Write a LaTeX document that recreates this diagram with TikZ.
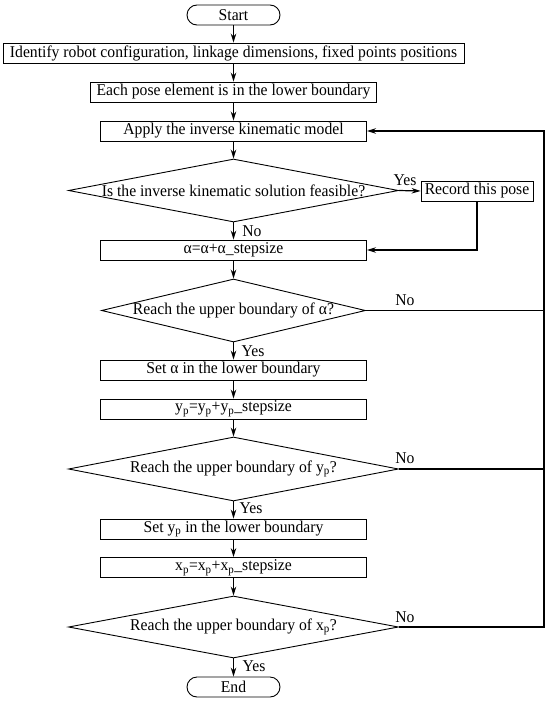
\documentclass[tikz,border=0pt]{standalone}
\usepackage{fontspec}
\setmainfont{Liberation Serif}[FakeStretch=0.95]
\usetikzlibrary{shapes.geometric,arrows.meta}
\begin{document}
\begin{tikzpicture}[x=1pt,y=-1pt,
  txt/.style={font=\fontsize{16.5}{18}\selectfont},
  box/.style={draw, line width=0.9pt, minimum height=20pt, inner sep=0pt, txt},
  term/.style={box, rounded corners=10pt},
  decision/.style={draw, line width=0.9pt, diamond, shape aspect=5, inner xsep=-40pt, inner ysep=-6pt, txt},
  arr/.style={line width=1.2pt, -{Stealth[length=9pt,width=5.5pt]}},
  back/.style={line width=1.6pt},
  lab/.style={inner sep=0pt, txt}]
\useasboundingbox (0,0) rectangle (550,701);
\node[term, minimum width=93pt] (start) at (233.5,15) {Start};
\node[box, minimum width=461pt] (ident) at (233.5,53) {Identify robot configuration, linkage dimensions, fixed points positions};
\node[box, minimum width=286pt] (each) at (233.5,92) {Each pose element is in the lower boundary};
\node[box, minimum width=266pt] (apply) at (233.5,131) {Apply the inverse kinematic model};
\node[decision, minimum width=330pt, minimum height=63pt] (d1) at (233.5,190.5) {Is the inverse kinematic solution feasible?};
\node[box, minimum width=112pt] (record) at (477,191) {Record this pose};
\node[box, minimum width=266pt] (alpha) at (233.5,250) {α=α+α\_stepsize};
\node[decision, minimum width=264pt, minimum height=63pt] (d2) at (233.5,310.5) {Reach the upper boundary of α?};
\node[box, minimum width=266pt] (seta) at (233.5,370) {Set α in the lower boundary};
\node[box, minimum width=266pt] (yp) at (233.5,409) {y\textsubscript{p}=y\textsubscript{p}+y\textsubscript{p}\_stepsize};
\node[decision, minimum width=330pt, minimum height=64pt] (d3) at (233.5,469) {Reach the upper boundary of y\textsubscript{p}?};
\node[box, minimum width=266pt] (setyp) at (233.5,529) {Set y\textsubscript{p} in the lower boundary};
\node[box, minimum width=266pt] (xp) at (233.5,567.5) {x\textsubscript{p}=x\textsubscript{p}+x\textsubscript{p}\_stepsize};
\node[decision, minimum width=330pt, minimum height=62pt] (d4) at (233.5,627) {Reach the upper boundary of x\textsubscript{p}?};
\node[term, minimum width=93pt] (end) at (233.5,687) {End};
\coordinate (rtop) at (544,131);
% labels
\node[lab] (l1) at (405,180) {Yes};
\node[lab] (l2) at (252,231) {No};
\node[lab] (l3) at (405,300) {No};
\node[lab] (l4) at (253,351) {Yes};
\node[lab] (l5) at (405,458) {No};
\node[lab] (l6) at (251,508) {Yes};
\node[lab] (l7) at (405,617) {No};
\node[lab] (l8) at (254,666) {Yes};
% main flow
\draw[arr] (start) -- (ident);
\draw[arr] (ident) -- (each);
\draw[arr] (each) -- (apply);
\draw[arr] (apply) -- (d1);
\draw[arr] (d1) -- (alpha);
\draw[arr] (alpha) -- (d2);
\draw[arr] (d2) -- (seta);
\draw[arr] (seta) -- (yp);
\draw[arr] (yp) -- (d3);
\draw[arr] (d3) -- (setyp);
\draw[arr] (setyp) -- (xp);
\draw[arr] (xp) -- (d4);
\draw[arr] (d4) -- (end);
\draw[arr] (d1.east) -- (record.west);
\draw[arr] (record.south) |- (alpha.east);
% loop back
\draw[back] (d2.east) -- (d2.east -| rtop);
\draw[back] (d3.east) -- (d3.east -| rtop);
\draw[back, -{Stealth[length=9pt,width=5.5pt]}] (d4.east) -| (rtop) -- (apply.east);
\end{tikzpicture}
\end{document}
